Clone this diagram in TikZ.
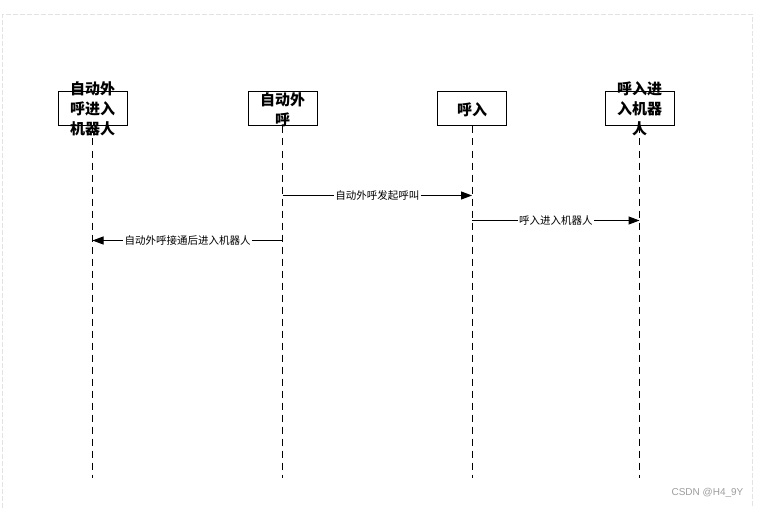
\documentclass[tikz,border=0pt]{standalone}
\usepackage{fontspec}
\newfontfamily\cjk{Noto Sans CJK SC}
\newfontfamily\lat{Liberation Sans}
\usetikzlibrary{arrows.meta}
\tikzset{
  actorbox/.style={draw=black, line width=1pt, minimum width=69pt, minimum height=34pt, inner sep=0pt},
  actortext/.style={align=center, inner sep=0pt, font=\cjk\bfseries\fontsize{15}{20}\selectfont},
  lifeline/.style={draw=black, line width=1pt, dash pattern=on 7pt off 5pt},
  msg/.style={draw=black, line width=1pt, -{Triangle[length=11pt,width=8pt]}},
  msglabel/.style={fill=white, inner sep=1.5pt, font=\cjk\fontsize{10.5}{12}\selectfont},
  frameline/.style={draw=gray!22, line width=0.8pt, dash pattern=on 5pt off 2pt}
}
\begin{document}
\begin{tikzpicture}[x=1pt,y=-1pt]
\useasboundingbox (0,0) rectangle (760,508);
\fill[white] (0,0) rectangle (760,508);
\draw[frameline] (2.5,508) -- (2.5,14.5) -- (752,14.5) -- (752,508);

% actors
\node[actorbox] (a) at (92.5,109) {};
\node[actorbox] (b) at (282.5,109) {};
\node[actorbox] (c) at (472,109) {};
\node[actorbox] (d) at (639.5,109) {};
\node[actortext] (at) at (92.5,109) {自动外\\呼进入\\机器人};
\node[actortext] (bt) at (282.5,110) {自动外\\呼};
\node[actortext] (ct) at (472,110) {呼入};
\node[actortext] (dt) at (639.5,109) {呼入进\\入机器\\人};

% lifeline ends
\coordinate (ae) at (92.5,478);
\coordinate (be) at (282.5,478);
\coordinate (ce) at (472,478);
\coordinate (de) at (639.5,478);
\draw[lifeline] (a.south) -- (ae);
\draw[lifeline] (b.south) -- (be);
\draw[lifeline] (c.south) -- (ce);
\draw[lifeline] (d.south) -- (de);

% message points
\coordinate (m1s) at (282.5,195.5);
\coordinate (m1e) at (472,195.5);
\coordinate (m2s) at (472,220.5);
\coordinate (m2e) at (639.5,220.5);
\coordinate (m3s) at (282.5,240.5);
\coordinate (m3e) at (92.5,240.5);
\draw[msg] (m1s) -- node[msglabel] {自动外呼发起呼叫} (m1e);
\draw[msg] (m2s) -- node[msglabel] {呼入进入机器人} (m2e);
\draw[msg] (m3s) -- node[msglabel] {自动外呼接通后进入机器人} (m3e);

\node[font=\lat\fontsize{10}{12}\selectfont, text=black!38, inner sep=0pt] (wm) at (707.5,493) {CSDN @H4\_9Y};
\end{tikzpicture}
\end{document}
